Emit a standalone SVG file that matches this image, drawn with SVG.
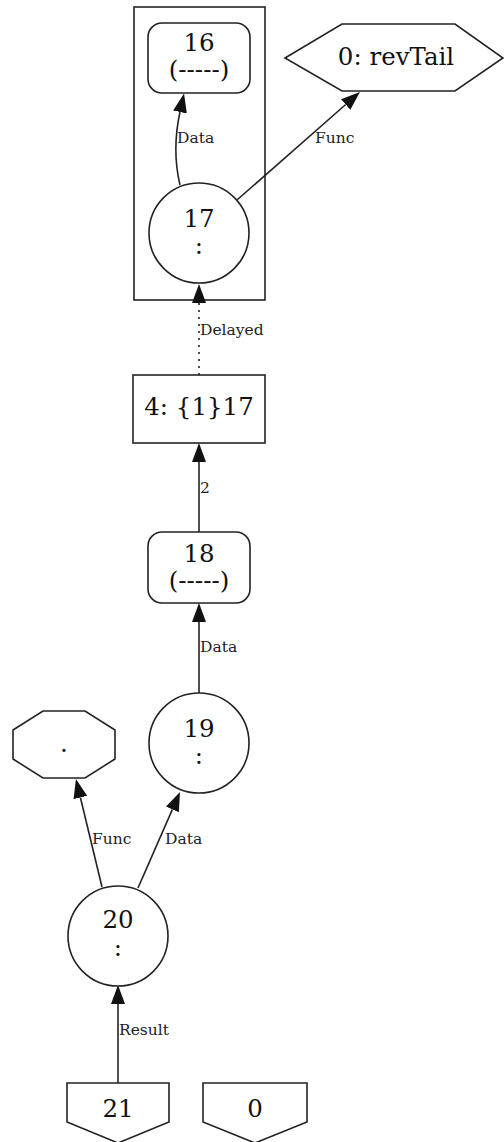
<svg xmlns="http://www.w3.org/2000/svg" width="504" height="1142" viewBox="0 0 504 1142">
<style>
.n{fill:#fff;stroke:#222;stroke-width:1.6}
.cl{fill:none;stroke:#222;stroke-width:1.6}
.t{font-family:"DejaVu Serif","Liberation Serif",serif;font-size:24.5px;fill:#111;text-anchor:middle}
.e{fill:none;stroke:#222;stroke-width:1.6}
.d{stroke-dasharray:2,5}
.l{font-family:"DejaVu Serif","Liberation Serif",serif;font-size:15.5px;fill:#222}
</style>
<defs>
<marker id="ah" viewBox="0 0 19 14" markerWidth="19" markerHeight="14" refX="0" refY="7" orient="auto" markerUnits="userSpaceOnUse">
<path d="M0,0 L19,7 L0,14 z" fill="#111"/>
</marker>
</defs>
<rect class="cl" x="134" y="7" width="131" height="293"/>
<g id="connectors">
<path class="e" d="M180,185 C174,160 175,135 180,112" marker-end="url(#ah)"/>
<path class="e" d="M237,200 L345.7,104.5" marker-end="url(#ah)"/>
<path class="e d" d="M199,375 L199,303" marker-end="url(#ah)"/>
<path class="e" d="M199,532 L199,462" marker-end="url(#ah)"/>
<path class="e" d="M199,693 L199,622" marker-end="url(#ah)"/>
<path class="e" d="M102,887 L80.4,797.5" marker-end="url(#ah)"/>
<path class="e" d="M138,888 L172.4,809.4" marker-end="url(#ah)"/>
<path class="e" d="M118,1083 L118,1004" marker-end="url(#ah)"/>
<text class="l" x="177" y="143">Data</text>
<text class="l" x="315" y="143">Func</text>
<text class="l" x="200" y="335">Delayed</text>
<text class="l" x="200" y="493">2</text>
<text class="l" x="200" y="652">Data</text>
<text class="l" x="92" y="844">Func</text>
<text class="l" x="165" y="844">Data</text>
<text class="l" x="119" y="1035">Result</text>
</g>
<g id="n16">
<rect class="n" x="148" y="23" width="102" height="70" rx="14"/>
<text class="t" x="199" y="51">16</text>
<text class="t" x="199" y="78">(-----)</text>
</g>
<g id="n0rev">
<polygon class="n" points="285,58 342,24 455,24 503,58 455,91 342,91"/>
<text class="t" x="396" y="65">0: revTail</text>
</g>
<g id="n17">
<circle class="n" cx="199" cy="233" r="50"/>
<text class="t" x="199" y="227">17</text>
<text class="t" x="199" y="254">:</text>
</g>
<g id="n4">
<rect class="n" x="133" y="375" width="132" height="68"/>
<text class="t" x="199" y="415">4: {1}17</text>
</g>
<g id="n18">
<rect class="n" x="148" y="532" width="102" height="71" rx="14"/>
<text class="t" x="199" y="562">18</text>
<text class="t" x="199" y="589">(-----)</text>
</g>
<g id="n19">
<circle class="n" cx="199" cy="743" r="50"/>
<text class="t" x="199" y="737">19</text>
<text class="t" x="199" y="764">:</text>
</g>
<g id="ndot">
<polygon class="n" points="13,730 43,711 85,711 115,730 115,759 85,778 43,778 13,759"/>
<text class="t" x="64" y="752">.</text>
</g>
<g id="n20">
<circle class="n" cx="118" cy="936" r="50"/>
<text class="t" x="118" y="928">20</text>
<text class="t" x="118" y="956">:</text>
</g>
<g id="n21">
<polygon class="n" points="67,1083 169,1083 169,1122 118,1143 67,1122"/>
<text class="t" x="118" y="1117">21</text>
</g>
<g id="n0">
<polygon class="n" points="203,1083 307,1083 307,1122 255,1143 203,1122"/>
<text class="t" x="255" y="1117">0</text>
</g>
</svg>
